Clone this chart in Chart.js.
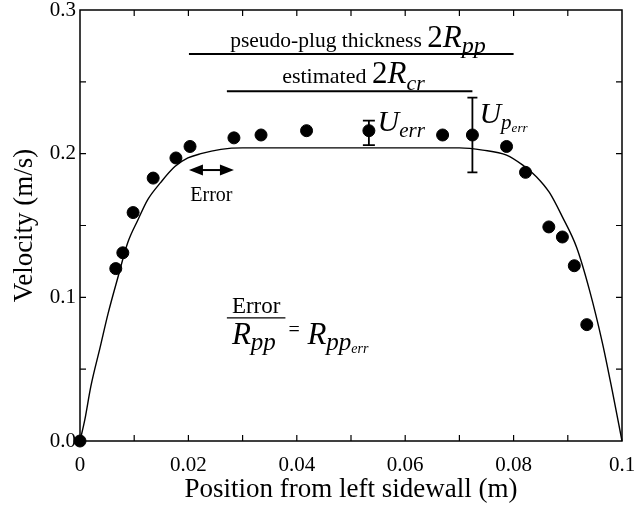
<!DOCTYPE html>
<html lang="en">

<head>
   <meta charset="UTF-8">
   <title>Velocity profile</title>
   <script src="https://cdn.jsdelivr.net/npm/chart.js@4.4.1/dist/chart.umd.min.js"></script>
   <style>
      body { margin: 0; background: #fff; }
      canvas { display: block; }
   </style>
</head>

<body>
   <canvas id="myChart" width="639" height="506"></canvas>
   <script>
      // model curve (position m, velocity m/s)
      const curveX = [0, 0.0009, 0.002, 0.0037, 0.0052, 0.007, 0.0088, 0.0107, 0.0125, 0.0149, 0.0175, 0.0199, 0.0223,
         0.026, 0.03, 0.04, 0.05, 0.06, 0.07, 0.0743, 0.0787, 0.0817, 0.0842, 0.0866, 0.089, 0.0916, 0.094, 0.0964, 0.0982, 0.1];
      const curveY = [0, 0.015, 0.038, 0.065, 0.089, 0.114, 0.138, 0.154, 0.168, 0.18, 0.191, 0.197, 0.2,
         0.203, 0.204, 0.204, 0.204, 0.204, 0.204, 0.2025, 0.199, 0.192, 0.184, 0.173, 0.156, 0.135, 0.105, 0.068, 0.035, 0];

      // measured points
      const pointX = [0, 0.0066, 0.0079, 0.0098, 0.0135, 0.0177, 0.0203, 0.0284, 0.0334, 0.0418, 0.0533,
         0.0669, 0.0724, 0.0787, 0.0822, 0.0865, 0.089, 0.0912, 0.0935];
      const pointY = [0, 0.120, 0.131, 0.159, 0.183, 0.197, 0.205, 0.211, 0.213, 0.216, 0.216,
         0.213, 0.213, 0.205, 0.187, 0.149, 0.142, 0.122, 0.081];

      // error bars
      const errX = [0.0533, 0.0724];
      const errLow = [0.206, 0.187];
      const errHigh = [0.223, 0.239];

      // span lines: pseudo-plug thickness, estimated critical radius, error arrow
      const plugSpan = [0.0201, 0.080];
      const plugLevel = 0.2693;
      const crSpan = [0.0271, 0.0724];
      const crLevel = 0.2435;
      const errorSpan = [0.0201, 0.0284];
      const errorLevel = 0.1886;

      const xTickLabels = ['0', '0.02', '0.04', '0.06', '0.08', '0.1'];
      const yTickLabels = ['0.0', '0.1', '0.2', '0.3'];

      const FONT = '"Liberation Serif", "Times New Roman", serif';

      // draw a run of [text, size, italic, dy] pieces starting at px, py
      function run(ctx, parts, px, py) {
         let cx = px;
         parts.forEach(([s, size, italic, dy]) => {
            ctx.font = (italic ? 'italic ' : '') + size + 'px ' + FONT;
            ctx.fillText(s, cx, py + (dy || 0));
            cx += ctx.measureText(s).width;
         });
         return cx - px;
      }

      function arrowHead(ctx, px, py, dir) {
         ctx.beginPath();
         ctx.moveTo(px, py);
         ctx.lineTo(px - dir * 14, py - 5.5);
         ctx.lineTo(px - dir * 14, py + 5.5);
         ctx.closePath();
         ctx.fill();
      }

      const frame = {
         id: 'frame',
         beforeDatasetsDraw(chart) {
            const { ctx, chartArea: a, scales: { x, y } } = chart;
            ctx.save();
            ctx.strokeStyle = '#000';
            ctx.lineWidth = 1.5;
            ctx.strokeRect(a.left, a.top, a.right - a.left, a.bottom - a.top);
            ctx.lineWidth = 1.2;
            ctx.beginPath();
            for (let i = 1; i < 10; i++) {
               const px = x.getPixelForValue(i / 100);
               ctx.moveTo(px, a.bottom); ctx.lineTo(px, a.bottom - 6);
               ctx.moveTo(px, a.top); ctx.lineTo(px, a.top + 6);
            }
            for (let i = 1; i < 6; i++) {
               const py = y.getPixelForValue(i * 0.05);
               ctx.moveTo(a.left, py); ctx.lineTo(a.left + 6, py);
               ctx.moveTo(a.right, py); ctx.lineTo(a.right - 6, py);
            }
            ctx.stroke();
            ctx.restore();
         },
         afterDatasetsDraw(chart) {
            const { ctx, scales: { x, y } } = chart;
            ctx.save();
            ctx.fillStyle = '#000';
            ctx.strokeStyle = '#000';
            ctx.textBaseline = 'alphabetic';
            ctx.textAlign = 'left';

            // span lines
            ctx.lineWidth = 2;
            ctx.beginPath();
            ctx.moveTo(x.getPixelForValue(plugSpan[0]), y.getPixelForValue(plugLevel));
            ctx.lineTo(x.getPixelForValue(plugSpan[1]), y.getPixelForValue(plugLevel));
            ctx.moveTo(x.getPixelForValue(crSpan[0]), y.getPixelForValue(crLevel));
            ctx.lineTo(x.getPixelForValue(crSpan[1]), y.getPixelForValue(crLevel));
            ctx.stroke();

            // error bars
            ctx.lineWidth = 1.8;
            errX.forEach((v, i) => {
               const px = x.getPixelForValue(v);
               const lo = y.getPixelForValue(errLow[i]);
               const hi = y.getPixelForValue(errHigh[i]);
               const cap = i === 0 ? 6 : 5;
               ctx.beginPath();
               ctx.moveTo(px, lo); ctx.lineTo(px, hi);
               ctx.moveTo(px - cap, lo); ctx.lineTo(px + cap, lo);
               ctx.moveTo(px - cap, hi); ctx.lineTo(px + cap, hi);
               ctx.stroke();
            });

            // error arrow
            const ax0 = x.getPixelForValue(errorSpan[0]);
            const ax1 = x.getPixelForValue(errorSpan[1]);
            const ay = y.getPixelForValue(errorLevel);
            ctx.lineWidth = 2;
            ctx.beginPath();
            ctx.moveTo(ax0 + 8, ay); ctx.lineTo(ax1 - 8, ay);
            ctx.stroke();
            arrowHead(ctx, ax0, ay, -1);
            arrowHead(ctx, ax1, ay, 1);
            ctx.textAlign = 'center';
            ctx.font = '20px ' + FONT;
            ctx.fillText('Error', (ax0 + ax1) / 2, ay + 31);
            ctx.textAlign = 'left';

            // pseudo-plug label
            run(ctx, [['pseudo-plug thickness ', 21.5], ['2', 31], ['R', 31, true], ['pp', 24, true, 6]],
               x.getPixelForValue(0.0277), y.getPixelForValue(0.2742));
            // estimated label
            run(ctx, [['estimated ', 22], ['2', 31], ['R', 31, true], ['cr', 22, true, 7]],
               x.getPixelForValue(0.0373), y.getPixelForValue(0.2495));
            // U_err
            run(ctx, [['U', 30, true], ['err', 21, true, 6]],
               x.getPixelForValue(0.0549), y.getPixelForValue(0.2161));
            // U_p_err
            const w = run(ctx, [['U', 30, true], ['p', 21, true, 6]],
               x.getPixelForValue(0.0737), y.getPixelForValue(0.2216));
            run(ctx, [['err', 13, true]], x.getPixelForValue(0.0737) + w, y.getPixelForValue(0.2216) + 9);

            // Error / R_pp = R_pp_err
            const fx0 = x.getPixelForValue(0.0271);
            const fx1 = x.getPixelForValue(0.0379);
            const fy = y.getPixelForValue(0.0857);
            ctx.lineWidth = 1.3;
            ctx.beginPath();
            ctx.moveTo(fx0, fy); ctx.lineTo(fx1, fy);
            ctx.stroke();
            ctx.textAlign = 'center';
            ctx.font = '23px ' + FONT;
            ctx.fillText('Error', (fx0 + fx1) / 2, fy - 5);
            ctx.textAlign = 'left';
            run(ctx, [['R', 31, true], ['pp', 25, true, 6]], fx0 + 5, fy + 26);
            run(ctx, [['=', 20]], fx1 + 3, fy + 18);
            const w2 = run(ctx, [['R', 31, true], ['pp', 25, true, 6]], fx1 + 22, fy + 26);
            run(ctx, [['err', 14, true]], fx1 + 22 + w2, fy + 35);

            ctx.restore();
         }
      };

      const config = {
         type: 'scatter',
         data: {
            datasets: [{
               type: 'line',
               label: 'Model',
               data: curveX.map((v, i) => ({ x: v, y: curveY[i] })),
               borderColor: '#000',
               borderWidth: 1.4,
               pointRadius: 0,
               cubicInterpolationMode: 'monotone',
               fill: false,
               clip: false
            }, {
               label: 'Measured',
               data: pointX.map((v, i) => ({ x: v, y: pointY[i] })),
               backgroundColor: '#000',
               borderColor: '#000',
               pointRadius: 6,
               clip: false
            }]
         },
         options: {
            responsive: false,
            animation: false,
            layout: { padding: { top: 10, right: 17, left: 0, bottom: 0 } },
            plugins: {
               legend: { display: false },
               tooltip: { enabled: false }
            },
            scales: {
               x: {
                  type: 'linear',
                  min: 0,
                  max: 0.1,
                  grid: { display: false, drawTicks: false },
                  border: { display: false },
                  ticks: {
                     stepSize: 0.02,
                     padding: 12,
                     color: '#000',
                     maxRotation: 0,
                     font: { family: FONT, size: 21 },
                     callback: v => xTickLabels[Math.round(v / 0.02)]
                  },
                  title: {
                     display: true,
                     text: 'Position from left sidewall (m)',
                     color: '#000',
                     font: { family: FONT, size: 27 },
                     padding: { top: 0, bottom: 0 }
                  },
                  afterFit: s => { s.height = 65; s.paddingLeft = 0; s.paddingRight = 0; }
               },
               y: {
                  min: 0,
                  max: 0.3,
                  grid: { display: false, drawTicks: false },
                  border: { display: false },
                  ticks: {
                     stepSize: 0.1,
                     padding: 4,
                     color: '#000',
                     font: { family: FONT, size: 21 },
                     callback: v => yTickLabels[Math.round(v / 0.1)]
                  },
                  title: {
                     display: true,
                     text: 'Velocity (m/s)',
                     color: '#000',
                     font: { family: FONT, size: 27 },
                     padding: { top: 9, bottom: 0 }
                  },
                  afterFit: s => { s.width = 80; s.paddingTop = 0; s.paddingBottom = 0; }
               }
            }
         },
         plugins: [frame]
      };

      const chart = new Chart(document.getElementById('myChart'), config);
   </script>
</body>

</html>
